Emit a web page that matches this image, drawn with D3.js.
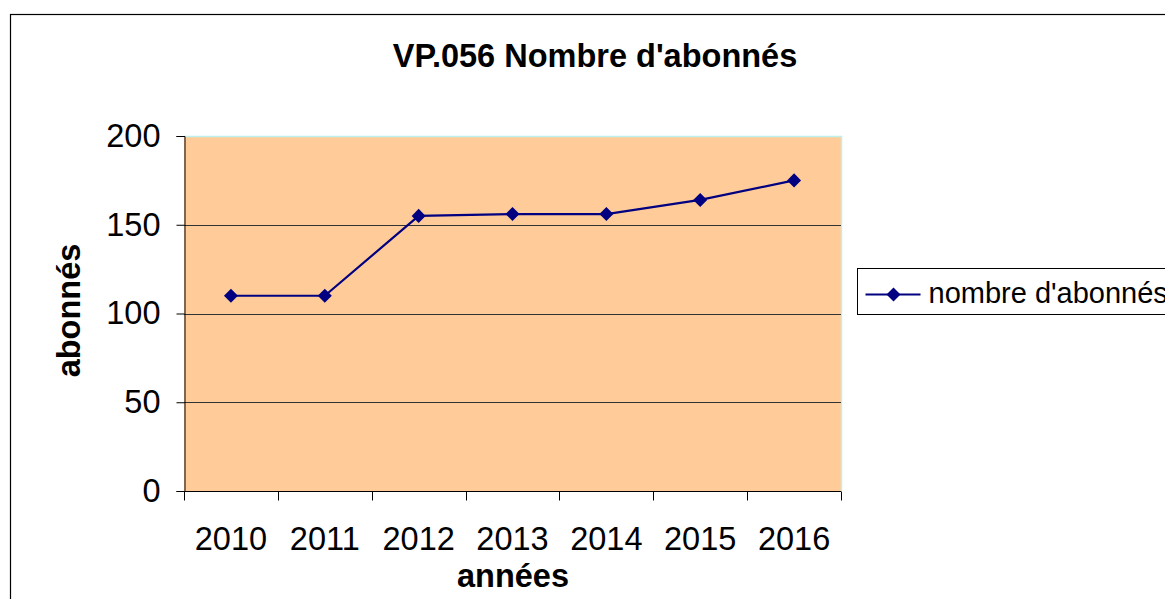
<!DOCTYPE html>
<html>
<head>
<meta charset="utf-8">
<script src="https://cdn.jsdelivr.net/npm/d3@7"></script>
<style>
  body { margin: 0; background: #fff; }
  svg { display: block; font-family: Arial, "Liberation Sans", sans-serif; }
</style>
</head>
<body>
<div id="wrapper"></div>
<script>
const years = ["2010", "2011", "2012", "2013", "2014", "2015", "2016"]
const abonnes = [110, 110, 155, 156, 156, 164, 175]
const yTicks = [0, 50, 100, 150, 200]
const seriesName = "nombre d'abonnés"

const width = 1165
const height = 599
const plot = { left: 184, right: 841, top: 136, bottom: 491 }
const fontSize = 32.5

const svg = d3.select("#wrapper").append("svg")
  .attr("width", width).attr("height", height)

// outer chart frame
svg.append("rect")
  .attr("x", 10.5).attr("y", 14.5)
  .attr("width", 1170).attr("height", 600)
  .attr("fill", "#fff").attr("stroke", "#000").attr("stroke-width", 1.2)

const x = d3.scaleBand().domain(years).range([plot.left, plot.right])
const y = d3.scaleLinear().domain([0, 200]).range([plot.bottom, plot.top])

// plot area
svg.append("rect")
  .attr("x", plot.left).attr("y", plot.top)
  .attr("width", plot.right - plot.left).attr("height", plot.bottom - plot.top)
  .attr("fill", "#FFCC99")
svg.append("path")
  .attr("d", `M${plot.left},${plot.top + 0.5}H${plot.right + 0.5}V${plot.bottom}`)
  .attr("fill", "none").attr("stroke", "#bff0ee").attr("stroke-width", 1.5)

// gridlines
svg.append("g").selectAll("line")
  .data(yTicks.filter(d => d > 0 && d < 200))
  .join("line")
  .attr("x1", plot.left).attr("x2", plot.right)
  .attr("y1", d => Math.round(y(d)) + 0.5).attr("y2", d => Math.round(y(d)) + 0.5)
  .attr("stroke", "#333").attr("stroke-width", 1)

// y axis
const yAxis = svg.append("g")
  .attr("transform", `translate(${plot.left + 0.5},0)`)
  .call(d3.axisLeft(y).tickValues(yTicks).tickSize(8).tickPadding(16))
yAxis.selectAll("text").attr("font-size", fontSize).attr("fill", "#000")
  .attr("font-family", "Arial, 'Liberation Sans', sans-serif")
yAxis.select(".domain").attr("stroke", "#000")
yAxis.selectAll(".tick line").attr("stroke", "#000")

// x axis with ticks on band boundaries
const xAxis = svg.append("g")
  .attr("transform", `translate(0,${plot.bottom + 0.5})`)
xAxis.append("line")
  .attr("x1", plot.left).attr("x2", plot.right)
  .attr("stroke", "#000")
xAxis.selectAll(".bt")
  .data(years.map(d => x(d)).concat([x(years[years.length - 1]) + x.bandwidth()]))
  .join("line").attr("class", "bt")
  .attr("x1", d => Math.round(d) + 0.5).attr("x2", d => Math.round(d) + 0.5)
  .attr("y1", 0).attr("y2", 9)
  .attr("stroke", "#000")
xAxis.selectAll("text")
  .data(years)
  .join("text")
  .attr("x", d => x(d) + x.bandwidth() / 2)
  .attr("y", 58)
  .attr("text-anchor", "middle")
  .attr("font-size", fontSize)
  .text(d => d)

// line series
const line = d3.line()
  .x((d, i) => x(years[i]) + x.bandwidth() / 2)
  .y(d => y(d))
svg.append("path")
  .attr("d", line(abonnes))
  .attr("fill", "none").attr("stroke", "#000080").attr("stroke-width", 2.2)

const diamond = d3.symbol().type(d3.symbolDiamond2).size(125)
svg.append("g").selectAll("path")
  .data(abonnes)
  .join("path")
  .attr("transform", (d, i) => `translate(${x(years[i]) + x.bandwidth() / 2},${y(d)})`)
  .attr("d", diamond)
  .attr("fill", "#000080")

// titles
svg.append("text")
  .attr("x", 595).attr("y", 67)
  .attr("text-anchor", "middle")
  .attr("font-size", fontSize).attr("font-weight", "bold")
  .text("VP.056 Nombre d'abonnés")

svg.append("text")
  .attr("x", 513).attr("y", 587)
  .attr("text-anchor", "middle")
  .attr("font-size", fontSize).attr("font-weight", "bold")
  .text("années")

svg.append("text")
  .attr("transform", `translate(80,${(plot.top + plot.bottom) / 2 - 3}) rotate(-90)`)
  .attr("text-anchor", "middle")
  .attr("font-size", fontSize).attr("font-weight", "bold")
  .text("abonnés")

// legend
const legend = svg.append("g").attr("transform", "translate(857.5,268.5)")
legend.append("rect")
  .attr("width", 340).attr("height", 46)
  .attr("fill", "#fff").attr("stroke", "#000").attr("stroke-width", 1)
legend.append("line")
  .attr("x1", 8).attr("x2", 63).attr("y1", 26).attr("y2", 26)
  .attr("stroke", "#000080").attr("stroke-width", 2)
legend.append("path")
  .attr("transform", "translate(36,26)")
  .attr("d", diamond)
  .attr("fill", "#000080")
legend.append("text")
  .attr("x", 71).attr("y", 34)
  .attr("font-size", 29)
  .text(seriesName)
</script>
</body>
</html>
